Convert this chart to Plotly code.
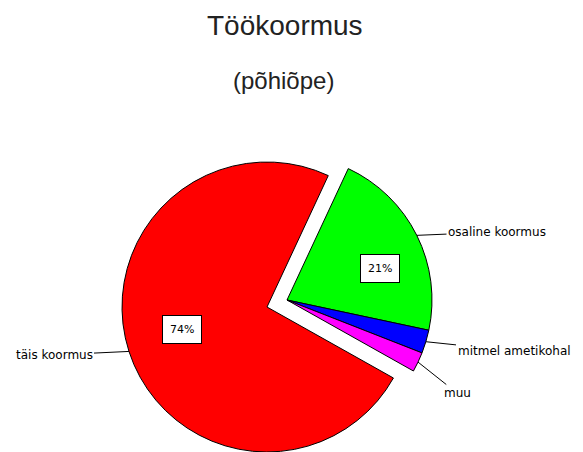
import math
import plotly.graph_objects as go

# data
labels = ["osaline koormus", "mitmel ametikohal", "muu", "täis koormus"]
values = [21.4, 2.6, 2.2, 73.8]
colors = ["#00FF00", "#0000FF", "#FF00FF", "#FF0000"]
pulled = [True, True, True, False]
boxed = ["21%", None, None, "74%"]

# layout / geometry (pixels)
W, H = 583, 452
R = 145
rotation = 25
main_c = (267, 307)
pull_c = (287, 300)
label_pos = [(497, 232), (514, 351), (457, 393), (54, 355)]
box_pos = [(380, 268), None, None, (182, 329)]

clear = "rgba(0,0,0,0)"


def dom(c):
    return dict(x=[(c[0] - R) / W, (c[0] + R) / W],
                y=[(H - c[1] - R) / H, (H - c[1] + R) / H])


fig = go.Figure()
fig.add_trace(go.Pie(
    labels=labels, values=values, sort=False, direction="clockwise",
    rotation=rotation, textinfo="none", hoverinfo="label+percent",
    marker=dict(colors=[clear if p else c for c, p in zip(colors, pulled)],
                line=dict(color="black", width=[0 if p else 1 for p in pulled])),
    domain=dom(main_c), showlegend=False,
))
fig.add_trace(go.Pie(
    labels=labels, values=values, sort=False, direction="clockwise",
    rotation=rotation, textinfo="none", hoverinfo="label+percent",
    marker=dict(colors=[c if p else clear for c, p in zip(colors, pulled)],
                line=dict(color="black", width=[1 if p else 0 for p in pulled])),
    domain=dom(pull_c), showlegend=False,
))

annotations = [
    dict(text="Töökoormus", x=285 / W, y=1 - 25.5 / H, xref="paper", yref="paper",
         xanchor="center", yanchor="middle", showarrow=False,
         font=dict(family="Liberation Sans, Arial", size=28, color="#222")),
    dict(text="(põhiõpe)", x=283.5 / W, y=1 - 80 / H, xref="paper", yref="paper",
         xanchor="center", yanchor="middle", showarrow=False,
         font=dict(family="Liberation Sans, Arial", size=24, color="#222")),
]

total = sum(values)
cum = 0
for i, v in enumerate(values):
    mid = math.radians(rotation + 360 * (cum + v / 2) / total)
    cum += v
    c = pull_c if pulled[i] else main_c
    px = c[0] + R * math.sin(mid)
    py = c[1] - R * math.cos(mid)
    tx, ty = label_pos[i]
    annotations.append(dict(
        text=labels[i], x=px / W, y=1 - py / H, xref="paper", yref="paper",
        showarrow=True, arrowhead=0, arrowwidth=1, arrowcolor="black",
        ax=tx - px, ay=ty - py, axref="pixel", ayref="pixel",
        font=dict(family="DejaVu Sans", size=12, color="black"),
    ))
    if boxed[i]:
        bx, by = box_pos[i]
        annotations.append(dict(
            text=boxed[i], x=bx / W, y=1 - by / H, xref="paper", yref="paper",
            xanchor="center", yanchor="middle", showarrow=False,
            bgcolor="white", bordercolor="black", borderwidth=1,
            borderpad=7, font=dict(family="DejaVu Sans", size=11, color="black"),
        ))

fig.update_layout(
    width=W, height=H, margin=dict(l=0, r=0, t=0, b=0),
    paper_bgcolor="white", plot_bgcolor="white",
    annotations=annotations,
)

fig.write_html("out.html", config={"displayModeBar": False},
               post_script="document.body.style.margin='0';")
